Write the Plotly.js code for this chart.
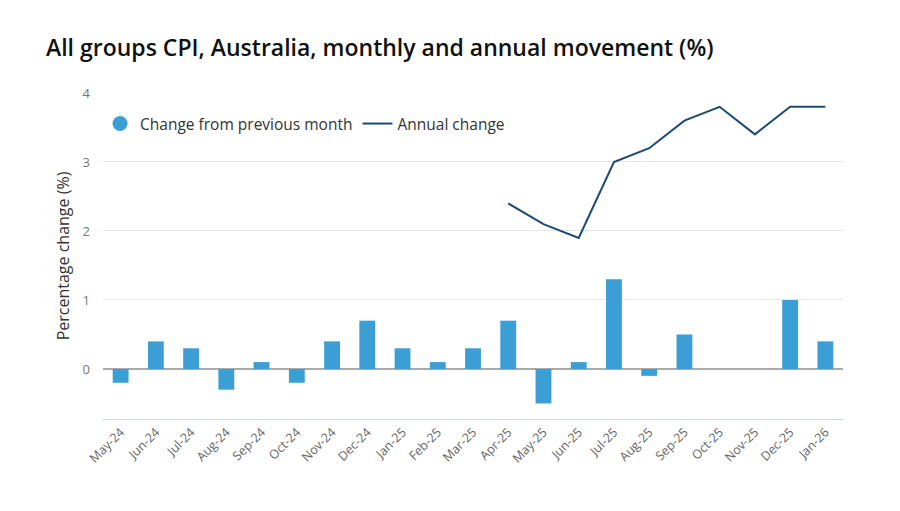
<!DOCTYPE html>
<html><head><meta charset="utf-8">
<script src="https://cdn.plot.ly/plotly-3.0.1.min.js"></script>
<style>body{margin:0;background:#fff}#chart{width:900px;height:511px}</style>
</head><body><div id="chart"></div>
<script>
var months = ["May-24","Jun-24","Jul-24","Aug-24","Sep-24","Oct-24","Nov-24","Dec-24","Jan-25","Feb-25","Mar-25","Apr-25","May-25","Jun-25","Jul-25","Aug-25","Sep-25","Oct-25","Nov-25","Dec-25","Jan-26"];
var monthlyChange = [-0.2,0.4,0.3,-0.3,0.1,-0.2,0.4,0.7,0.3,0.1,0.3,0.7,-0.5,0.1,1.3,-0.1,0.5,0.0,0.0,1.0,0.4];
var annualMonths = ["Apr-25","May-25","Jun-25","Jul-25","Aug-25","Sep-25","Oct-25","Nov-25","Dec-25","Jan-26"];
var annualChange = [2.4,2.1,1.9,3.0,3.2,3.6,3.8,3.4,3.8,3.8];
var yTicks = [0,1,2,3,4];

var barColor = "#3b9fd6", lineColor = "#1c4a74";
var traces = [
  {type:"bar", x:months, y:monthlyChange, name:"Change from previous month", marker:{color:barColor}, showlegend:false},
  {type:"scatter", mode:"markers", x:[months[0]], y:[null], name:"Change from previous month", marker:{color:barColor, size:15, symbol:"circle"}, showlegend:true},
  {type:"scatter", mode:"lines", x:annualMonths, y:annualChange, name:"Annual change", line:{color:lineColor, width:2}}
];
var layout = {
  width:900, height:511,
  margin:{l:103, r:57, t:93, b:92},
  paper_bgcolor:"#fff", plot_bgcolor:"#fff",
  font:{family:"Open Sans, sans-serif", color:"#666"},
  title:{text:"All groups CPI, Australia, monthly and annual movement (%)", x:46/900, xanchor:"left", y:1-48/511, yanchor:"middle", font:{family:"Open Sans, sans-serif", size:23, color:"#111", weight:600}},
  bargap:0.55,
  showlegend:true,
  legend:{orientation:"h", x:-0.004, y:0.905, xanchor:"left", yanchor:"middle", font:{size:15.5, color:"#333"}, bgcolor:"rgba(0,0,0,0)", itemwidth:30, traceorder:"normal"},
  xaxis:{type:"category", categoryorder:"array", categoryarray:months, tickangle:-45, tickfont:{size:12.5, color:"#666"}, showgrid:false, showline:true, linecolor:"#ccd6eb", linewidth:1, ticks:"", zeroline:false, fixedrange:true, range:[-0.5, months.length-0.5]},
  yaxis:{range:[-0.725, 4.0], tickvals:yTicks, ticktext:yTicks.map(String), tickfont:{size:13, color:"#777"}, gridcolor:"#e6e6e6", gridwidth:1, zeroline:true, zerolinecolor:"#aaaaaa", zerolinewidth:2, ticks:"", ticklen:0, ticklabelstandoff:12,
    title:{text:"Percentage change (%)", font:{size:16, color:"#333"}, standoff:8}, automargin:false}
};
Plotly.newPlot("chart", traces, layout, {displayModeBar:false, staticPlot:true});
</script></body></html>
